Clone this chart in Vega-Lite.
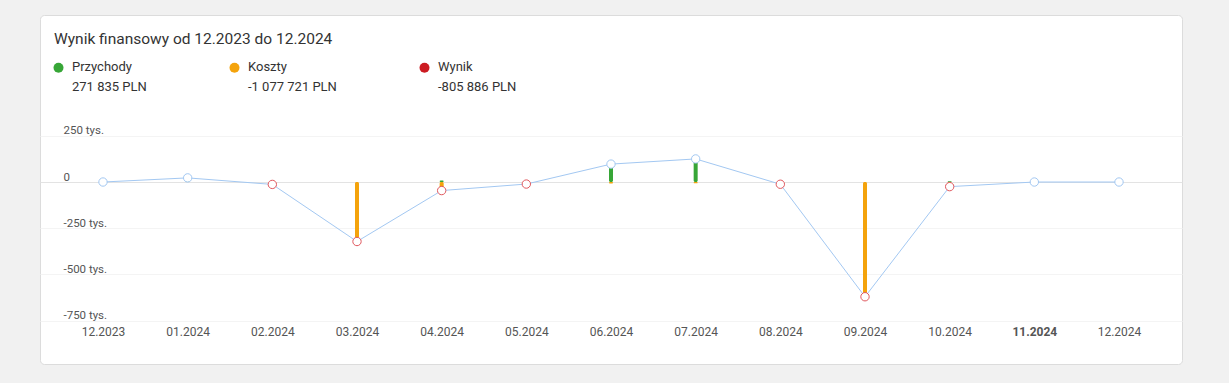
{
  "$schema": "https://vega.github.io/schema/vega-lite/v6.json",
  "width": 1142,
  "height": 349,
  "autosize": {"type": "none"},
  "padding": {"left": 40, "top": 15, "right": 47, "bottom": 19},
  "background": "#f1f1f1",
  "config": {
    "view": {"fill": "white", "stroke": "#dcdcdc", "strokeWidth": 1, "cornerRadius": 4},
    "font": "Roboto"
  },
  "title": {
    "text": "Wynik finansowy od 12.2023 do 12.2024",
    "anchor": "start",
    "frame": "group",
    "orient": "top",
    "offset": 0,
    "baseline": "alphabetic",
    "dx": 14,
    "dy": 44,
    "font": "Roboto",
    "fontSize": 15.5,
    "fontWeight": "normal",
    "color": "#333333"
  },
  "data": {
    "values": [
      {"miesiac": "12.2023", "Przychody": 0, "Koszty": 0, "Wynik": 0},
      {"miesiac": "01.2024", "Przychody": 22400, "Koszty": 0, "Wynik": 22400},
      {"miesiac": "02.2024", "Przychody": 0, "Koszty": -13000, "Wynik": -13000},
      {"miesiac": "03.2024", "Przychody": 0, "Koszty": -322000, "Wynik": -322000},
      {"miesiac": "04.2024", "Przychody": 8200, "Koszty": -54486, "Wynik": -46286},
      {"miesiac": "05.2024", "Przychody": 0, "Koszty": -11000, "Wynik": -11000},
      {"miesiac": "06.2024", "Przychody": 104600, "Koszty": -7600, "Wynik": 97000},
      {"miesiac": "07.2024", "Przychody": 131900, "Koszty": -6900, "Wynik": 125000},
      {"miesiac": "08.2024", "Przychody": 0, "Koszty": -12000, "Wynik": -12000},
      {"miesiac": "09.2024", "Przychody": 0, "Koszty": -621000, "Wynik": -621000},
      {"miesiac": "10.2024", "Przychody": 4735, "Koszty": -29735, "Wynik": -25000},
      {"miesiac": "11.2024", "Przychody": 0, "Koszty": 0, "Wynik": 0},
      {"miesiac": "12.2024", "Przychody": 0, "Koszty": 0, "Wynik": 0}
    ]
  },
  "encoding": {
    "x": {
      "field": "miesiac",
      "type": "ordinal",
      "sort": null,
      "scale": {
        "type": "point",
        "padding": 0.744,
        "domain": ["12.2023", "01.2024", "02.2024", "03.2024", "04.2024", "05.2024", "06.2024", "07.2024", "08.2024", "09.2024", "10.2024", "11.2024", "12.2024"]
      },
      "axis": {
        "title": null,
        "orient": "bottom",
        "offset": -38,
        "domain": false,
        "ticks": false,
        "tickSize": 0,
        "grid": false,
        "labelPadding": 0,
        "labelAngle": 0,
        "labelFont": "Roboto",
        "labelFontSize": 12,
        "labelColor": "#555555",
        "labelFontWeight": {"condition": {"test": "datum.value == '11.2024'", "value": "bold"}, "value": "normal"}
      }
    }
  },
  "layer": [
    {
      "transform": [
        {"fold": ["Przychody", "Koszty"], "as": ["seria", "kwota"]},
        {"filter": "datum.kwota != 0"}
      ],
      "mark": {"type": "bar", "size": 4, "cornerRadius": 1.5},
      "encoding": {
        "y": {
          "field": "kwota",
          "type": "quantitative",
          "scale": {"domain": [-985000, 904000], "nice": false, "zero": false},
          "axis": {
            "title": null,
            "orient": "left",
            "values": [-750000, -500000, -250000, 0, 250000],
            "domain": false,
            "ticks": false,
            "tickSize": 0,
            "labelAlign": "left",
            "labelBaseline": "alphabetic",
            "labelPadding": -23,
            "labelOffset": -2,
            "labelFont": "Roboto",
            "labelFontSize": 11.5,
            "labelColor": "#555555",
            "labelExpr": "datum.value == 0 ? '0' : (datum.value / 1000) + ' tys.'",
            "grid": true,
            "gridColor": {"condition": {"test": "datum.value == 0", "value": "#e3e3e3"}, "value": "#f4f4f4"},
            "gridWidth": 1
          }
        },
        "y2": {"datum": 0},
        "color": {
          "field": "seria",
          "type": "nominal",
          "scale": {"domain": ["Przychody", "Koszty", "Wynik"], "range": ["#37a637", "#f4a30c", "#cc1b22"]},
          "legend": {
            "title": null,
            "orient": "none",
            "legendX": 12,
            "legendY": 46,
            "direction": "horizontal",
            "columnPadding": 81,
            "symbolType": "circle",
            "symbolSize": 100,
            "symbolStrokeWidth": 0,
            "symbolOpacity": 1,
            "labelOffset": 7,
            "labelFont": "Roboto",
            "labelFontSize": 13,
            "labelColor": "#333333",
            "labelBaseline": "top",
            "labelLimit": 300,
            "labelExpr": "datum.label == 'Przychody' ? ['Przychody', '271 835 PLN'] : datum.label == 'Koszty' ? ['Koszty', '-1 077 721 PLN'] : ['Wynik', '-805 886 PLN']",
            "encode": {"labels": {"update": {"lineHeight": {"value": 20}, "dy": {"value": -7}}}}
          }
        }
      }
    },
    {
      "mark": {"type": "line", "color": "#a3c8f2", "strokeWidth": 1},
      "encoding": {
        "y": {"field": "Wynik", "type": "quantitative"}
      }
    },
    {
      "mark": {"type": "point", "shape": "circle", "filled": false, "fill": "white", "fillOpacity": 1, "size": 70, "strokeWidth": 1, "opacity": 1},
      "encoding": {
        "y": {"field": "Wynik", "type": "quantitative"},
        "stroke": {"condition": {"test": "datum.Wynik < 0", "value": "#e0575d"}, "value": "#a3c8f2"}
      }
    }
  ]
}
